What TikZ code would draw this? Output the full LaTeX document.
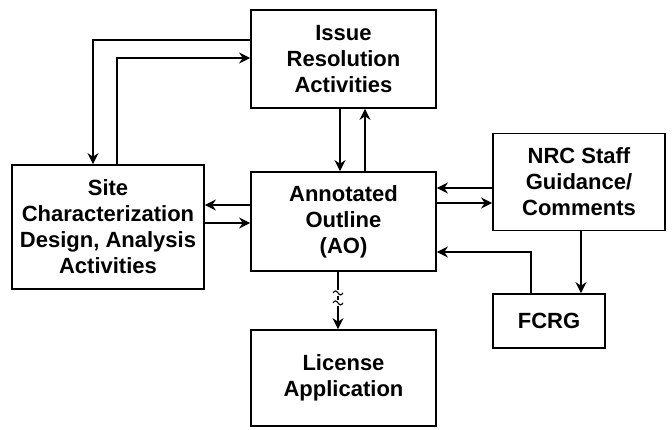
\documentclass[tikz,border=0pt]{standalone}
\usepackage{fontspec}
\setmainfont{Liberation Sans}
\usetikzlibrary{arrows.meta}
\begin{document}
\begin{tikzpicture}[x=1pt,y=-1pt,
  box/.style={draw,line width=1.8pt,inner sep=0pt,align=center,
    font=\fontsize{22}{26}\selectfont\bfseries},
  arr/.style={line width=1.1pt,-{Stealth[length=11pt,width=11pt]}},
  ln/.style={line width=1.1pt}]
\useasboundingbox (0,0) rectangle (672,429);
\node[box,minimum width=185pt,minimum height=98pt] (iss) at (343.5,59) {Issue\\Resolution\\Activities};
\node[box,minimum width=192pt,minimum height=124pt] (site) at (108,227) {Site\\Characterization\\Design, Analysis\\Activities};
\node[box,minimum width=185pt,minimum height=99pt] (ao) at (343.5,221.5) {Annotated\\Outline\\(AO)};
\node[box,minimum width=172pt,minimum height=97pt] (nrc) at (579,182) {NRC Staff\\Guidance/\\Comments};
\node[box,minimum width=112pt,minimum height=54pt] (fcrg) at (549,321) {FCRG};
\node[box,minimum width=185pt,minimum height=96pt] (lic) at (343.5,378) {License\\Application};
% issue <-> site
\draw[arr] ([yshift=19pt]iss.west) -| ([xshift=-15pt]site.north);
\draw[arr] ([xshift=9pt]site.north) |- ([yshift=1pt]iss.west);
% issue <-> ao
\draw[arr] ([xshift=-3.5pt]iss.south) -- ([xshift=-3.5pt]ao.north);
\draw[arr] ([xshift=21.5pt]ao.north) -- ([xshift=21.5pt]iss.south);
% ao <-> site
\coordinate (c1) at ([yshift=16.5pt]ao.west);
\coordinate (c2) at ([yshift=-1.5pt]ao.west);
\draw[arr] (c1) -- (c1 -| site.east);
\draw[arr] (c2 -| site.east) -- (c2);
% ao <-> nrc
\coordinate (c3) at ([yshift=33.5pt]ao.east);
\coordinate (c4) at ([yshift=18.5pt]ao.east);
\draw[arr] (c3 -| nrc.west) -- (c3);
\draw[arr] (c4) -- (c4 -| nrc.west);
% nrc -> fcrg
\draw[arr] ([xshift=32pt]fcrg.north |- nrc.south) -- ([xshift=32pt]fcrg.north);
% fcrg -> ao
\draw[arr] ([xshift=-18pt]fcrg.north) |- ([yshift=-30.5pt]ao.east);
% ao -> license with break marks
\coordinate (b0) at ([xshift=-5.5pt]ao.south);
\coordinate (b1) at ([xshift=-5.5pt]lic.north);
\draw[ln] (b0) -- ++(0,18);
\draw[ln] ([yshift=-21pt]b0) ++(-5,0) sin ++(2.5,-2) cos ++(2.5,2) sin ++(2.5,2) cos ++(2.5,-2);
\draw[ln] ([yshift=-24pt]b0) -- ([yshift=-28pt]b0);
\draw[ln] ([yshift=-31pt]b0) ++(-5,0) sin ++(2.5,-2) cos ++(2.5,2) sin ++(2.5,2) cos ++(2.5,-2);
\draw[arr] ([yshift=-34pt]b0) -- (b1);
\end{tikzpicture}
\end{document}
